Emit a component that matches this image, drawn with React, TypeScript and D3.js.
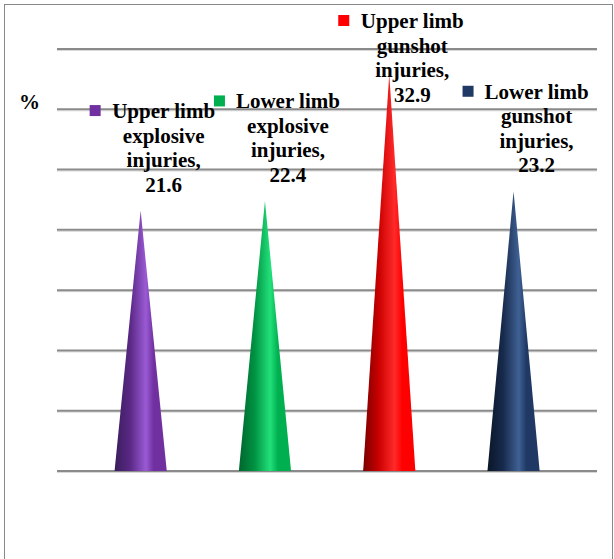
import React from "react";
import * as d3 from "d3";

const categories = [
  "Upper limb explosive injuries",
  "Lower limb explosive injuries",
  "Upper limb gunshot injuries",
  "Lower limb gunshot injuries",
];
const values = [21.6, 22.4, 32.9, 23.2];
const labelLines = [
  ["Upper limb", "explosive", "injuries,"],
  ["Lower limb", "explosive", "injuries,"],
  ["Upper limb", "gunshot", "injuries,"],
  ["Lower limb", "gunshot", "injuries,"],
];
const colors = ["#7030A0", "#00B050", "#FF0000", "#1F3864"];
const darkColors = ["#3a1d5c", "#00662e", "#7a0000", "#0b1628"];
const lightColors = ["#9a5ad4", "#22e07a", "#ff2a2a", "#3f6194"];
const gridTicks = [0, 5, 10, 15, 20, 25, 30, 35];

const W = 614;
const H = 559;

export default function App() {
  const y = d3.scaleLinear().domain([0, 35]).range([471, 49]);
  const x = d3
    .scaleBand<string>()
    .domain(categories)
    .range([78.5, 575.7])
    .paddingInner(0.58)
    .paddingOuter(0.29);
  const bw = x.bandwidth();
  const fs = 21;
  const lh = 24.5;
  const font = "'Liberation Serif', 'Times New Roman', serif";

  return (
    <svg
      width={W}
      height={H}
      style={{ position: "absolute", left: 0, top: 0, display: "block", background: "#fff" }}
    >
      <defs>
        {colors.map((c, i) => (
          <linearGradient key={i} id={`g${i}`} x1="0" x2="1" y1="0" y2="0">
            <stop offset="0%" stopColor={darkColors[i]} />
            <stop offset="30%" stopColor={d3.interpolateRgb(darkColors[i], c)(0.6)} />
            <stop offset="60%" stopColor={lightColors[i]} />
            <stop offset="75%" stopColor={c} />
            <stop offset="100%" stopColor={c} />
          </linearGradient>
        ))}
      </defs>
      <rect x={4.5} y={4.5} width={608} height={H + 10} fill="#fff" stroke="#888" strokeWidth={1} />
      {gridTicks.map((t) => (
        <g key={t}>
          <line x1={57} x2={597} y1={y(t) + 1.5} y2={y(t) + 1.5} stroke="#d8d8d8" strokeWidth={1} />
          <line x1={57} x2={597} y1={y(t)} y2={y(t)} stroke="#8a8a8a" strokeWidth={2} />
        </g>
      ))}
      {categories.map((c, i) => {
        const cx = (x(c) as number) + bw / 2;
        const base = y(0);
        const tip = y(values[i]);
        const path = d3.path();
        path.moveTo(cx - bw / 2, base);
        path.lineTo(cx, tip);
        path.lineTo(cx + bw / 2, base);
        path.closePath();
        return <path key={c} d={path.toString()} fill={`url(#g${i})`} />;
      })}
      {categories.map((c, i) => {
        const cx = (x(c) as number) + bw / 2 + 23;
        const tip = y(values[i]);
        const lines = [...labelLines[i], String(values[i])];
        const lastBase = tip - 19;
        const firstBase = Math.max(lastBase - lh * 3, 28);
        return (
          <g key={c} fontFamily={font} fontWeight="bold" fontSize={fs} fill="#000">
            <rect x={cx - 74} y={firstBase - 13} width={11} height={11} fill={colors[i]} />
            {lines.map((l, j) => (
              <text key={j} x={cx} y={firstBase + j * lh} textAnchor="middle">
                {l}
              </text>
            ))}
          </g>
        );
      })}
      <text x={19} y={109} fontFamily={font} fontWeight="bold" fontSize={fs} fill="#000">
        %
      </text>
    </svg>
  );
}
